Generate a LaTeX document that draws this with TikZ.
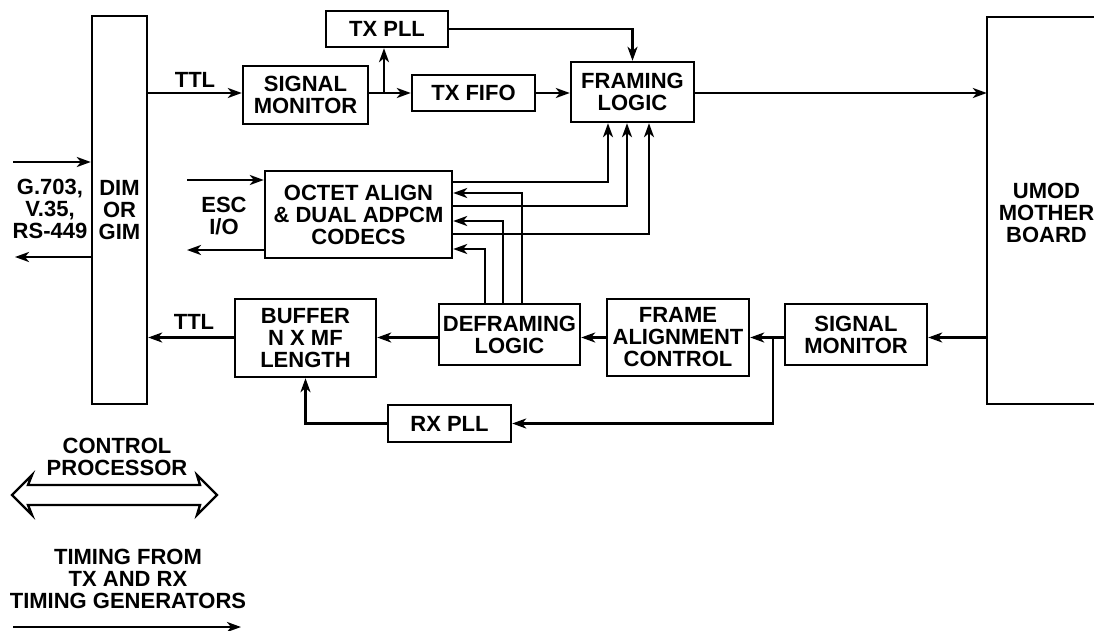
\documentclass[tikz,border=0pt]{standalone}
\usepackage{fontspec}
\setmainfont{Liberation Sans}
\usetikzlibrary{arrows.meta,calc}
\begin{document}
\begin{tikzpicture}[x=1pt,y=-1pt,
  lbl/.style={align=center, inner sep=0pt, font=\bfseries\fontsize{22}{22}\selectfont},
  blk/.style={lbl, draw, line width=2.4pt},
  ln/.style={line width=2.4pt, line join=miter},
  arr/.style={ln, -{Stealth[length=14pt,width=10pt,inset=4pt]}}]
\useasboundingbox (0,0) rectangle (1094,631);

% blocks
\node[blk, minimum width=55, minimum height=388] (dim) at (119.5,210) {DIM\\OR\\GIM};
\node[blk, minimum width=122, minimum height=36] (txpll) at (387,29) {TX PLL};
\node[blk, minimum width=125, minimum height=58] (sm1) at (305.5,95) {SIGNAL\\MONITOR};
\node[blk, minimum width=123, minimum height=36] (txfifo) at (473.5,93) {TX FIFO};
\node[blk, minimum width=123, minimum height=60] (framing) at (632.5,92) {FRAMING\\LOGIC};
\node[blk, minimum width=187, minimum height=87] (octet) at (358.5,214.5) {OCTET ALIGN\\\& DUAL ADPCM\\CODECS};
\node[blk, minimum width=141, minimum height=78] (buffer) at (305.5,338) {BUFFER\\N X MF\\LENGTH};
\node[blk, minimum width=141, minimum height=61] (defr) at (509.5,334.5) {DEFRAMING\\LOGIC};
\node[blk, minimum width=142, minimum height=77] (fac) at (678,337.5) {FRAME\\ALIGNMENT\\CONTROL};
\node[blk, minimum width=142, minimum height=61] (sm2) at (856,334.5) {SIGNAL\\MONITOR};
\node[blk, minimum width=123, minimum height=37] (rxpll) at (449.5,423.5) {RX PLL};

% UMOD mother board (open to the right edge)
\node[minimum width=107, minimum height=387, inner sep=0pt] (umod) at (1040.5,210.5) {};
\draw[ln] (umod.north east) -- (umod.north west) -- (umod.south west) -- (umod.south east);
\node[lbl] (umodtxt) at (1046.5,212.5) {UMOD\\MOTHER\\BOARD};

% free labels
\node[lbl] (ifaces) at (50,209) {G.703,\\V.35,\\RS-449};
\node[lbl] (ttl1) at (195,80) {TTL};
\node[lbl] (ttl2) at (194,322) {TTL};
\node[lbl] (esc) at (224,216) {ESC\\I/O};
\node[lbl] (cp) at (117,457) {CONTROL\\PROCESSOR};
\node[lbl] (timing) at (128,579) {TIMING FROM\\TX AND RX\\TIMING GENERATORS};

% free ends
\coordinate (gin) at (13,162);
\coordinate (gout) at (15,257);
\coordinate (escin) at (187,180);
\coordinate (escout) at (187,250);
\coordinate (sp1) at (384,93);
\coordinate (sp2) at (773,337.5);
\coordinate (tim1) at (13,627);
\coordinate (tim2) at (241,627);

% line interface
\draw[arr] (gin) -- (gin -| dim.west);
\draw[arr] (gout -| dim.west) -- (gout);

% transmit path
\draw[arr] (dim.east |- txfifo.west) -- (sm1.west |- txfifo.west);
\draw[arr] (sm1.east |- txfifo.west) -- (txfifo.west);
\draw[arr] (sp1) -- (sp1 |- txpll.south);
\draw[arr] (txfifo.east) -- (framing.west |- txfifo.east);
\draw[arr] (txpll.east) -| (framing.north);
\draw[arr] (framing.east |- txfifo.east) -- (umod.west |- txfifo.east);

% octet -> framing
\draw[arr] (octet.east |- 0,182) -| (608,0 |- framing.south);
\draw[arr] (octet.east |- 0,206) -| (627,0 |- framing.south);
\draw[arr] (octet.east |- 0,234) -| (649,0 |- framing.south);

% deframing -> octet
\draw[arr] (522,0 |- defr.north) |- (octet.east |- 0,193);
\draw[arr] (503,0 |- defr.north) |- (octet.east |- 0,221);
\draw[arr] (485,0 |- defr.north) |- (octet.east |- 0,249);

% ESC I/O
\draw[arr] (escin) -- (escin -| octet.west);
\draw[arr] (escout -| octet.west) -- (escout);

% receive path
\draw[arr] (umod.west |- sp2) -- (sm2.east |- sp2);
\draw[arr] (sm2.west |- sp2) -- (fac.east |- sp2);
\draw[arr] (fac.west |- sp2) -- (defr.east |- sp2);
\draw[arr] (defr.west |- sp2) -- (buffer.east |- sp2);
\draw[arr] (buffer.west |- sp2) -- (dim.east |- sp2);
\draw[arr] (sp2) |- (rxpll.east);
\draw[arr] (rxpll.west) -| (buffer.south);

% control processor double arrow
\draw[ln] (12,495) -- (32,475) -- (28,485) -- (200,485) -- (197,475) -- (217,495)
  -- (197,515) -- (200,505) -- (28,505) -- (32,515) -- cycle;

% timing arrow
\draw[arr] (tim1) -- (tim2);
\end{tikzpicture}
\end{document}
